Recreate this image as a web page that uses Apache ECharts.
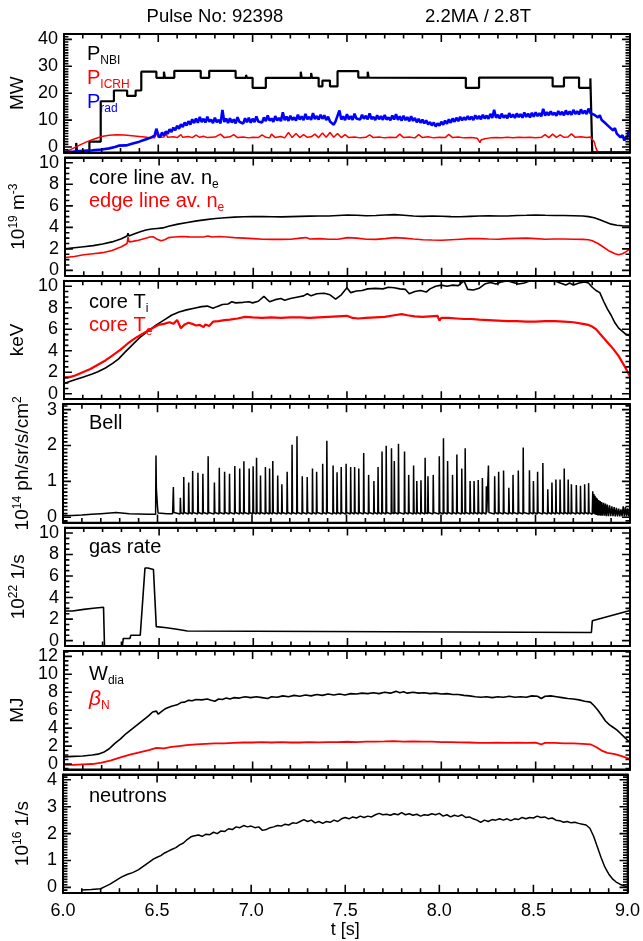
<!DOCTYPE html>
<html><head><meta charset="utf-8">
<script src="https://cdn.jsdelivr.net/npm/echarts@6/dist/echarts.min.js"></script>
<style>html,body{margin:0;padding:0;background:#fff}#c{width:643px;height:941px}</style>
</head><body><div id="c"></div>
<script>
// ---------------- DATA (t [s], value) ----------------
const pNBI = [[6.00,-2],[6.065,-2],[6.065,1.5],[6.07,1.5],[6.07,-2],[6.135,-2],[6.135,2.0],[6.195,2.0],[6.195,17],[6.265,17],[6.265,21],[6.335,21],[6.335,19],[6.38,19],[6.38,21],[6.41,21],[6.41,28],[6.49,28],[6.49,25.7],[6.53,25.7],[6.53,28],[6.535,28],[6.535,25.7],[6.585,25.7],[6.585,28.3],[6.725,28.3],[6.725,25.7],[6.77,25.7],[6.77,28.3],[6.91,28.3],[6.91,25.7],[6.965,25.7],[6.965,26.8],[6.97,25.7],[7.0,25.7],[7.0,22],[7.07,22],[7.07,25.7],[7.255,25.7],[7.255,28],[7.26,25.7],[7.31,25.7],[7.31,27.5],[7.315,25.7],[7.35,25.7],[7.35,22.5],[7.37,22.5],[7.37,24.7],[7.41,24.7],[7.41,22.5],[7.45,22.5],[7.45,28.2],[7.56,28.2],[7.56,25.8],[7.61,25.8],[7.61,28],[7.615,25.8],[8.13,25.7],[8.13,22],[8.20,22],[8.20,25.8],[8.59,25.8],[8.59,22.5],[8.65,22.5],[8.65,25.8],[8.73,25.8],[8.73,22],[8.79,22],[8.79,25.5],[8.795,25.5],[8.80,-2],[9.0,-2]];
const pICRH = [[6.00,-2],[6.04,-0.8],[6.08,0.6],[6.12,1.9],[6.16,3.0],[6.20,3.9],[6.24,4.4],[6.28,4.6],[6.32,4.5],[6.36,4.2],[6.40,3.9],[6.44,3.6],[6.48,3.4],[6.49,5.2],[6.50,3.6],[6.53,3.7],[6.54,5.0],[6.55,3.6],[6.58,3.8],[6.60,3.5],[6.62,4.6],[6.63,3.6],[6.66,3.9],[6.68,3.5],[6.70,4.4],[6.72,3.6],[6.74,4.0],[6.76,3.5],[6.80,3.7],[6.83,4.8],[6.85,3.5],[6.88,3.8],[6.90,4.6],[6.92,3.5],[6.95,3.7],[6.98,3.4],[7.00,3.6],[7.03,3.5],[7.05,4.5],[7.07,3.6],[7.09,3.4],[7.10,4.8],[7.12,3.5],[7.15,3.9],[7.17,3.4],[7.19,5.4],[7.21,3.5],[7.23,5.0],[7.25,3.5],[7.27,4.6],[7.29,3.6],[7.31,3.8],[7.33,4.8],[7.35,3.5],[7.37,5.2],[7.39,3.6],[7.41,5.4],[7.43,3.6],[7.45,5.0],[7.47,3.5],[7.49,4.6],[7.51,3.5],[7.54,3.7],[7.57,3.4],[7.60,3.6],[7.62,4.5],[7.64,3.5],[7.67,3.7],[7.70,3.4],[7.73,3.6],[7.76,3.5],[7.78,4.8],[7.80,3.5],[7.83,3.7],[7.86,3.4],[7.88,4.6],[7.90,3.5],[7.93,3.8],[7.96,3.4],[7.99,3.6],[8.02,3.5],[8.04,4.7],[8.06,3.5],[8.09,3.7],[8.12,3.4],[8.16,3.5],[8.19,3.3],[8.205,1.6],[8.21,2.6],[8.23,3.1],[8.26,3.4],[8.29,3.5],[8.32,3.4],[8.35,3.6],[8.38,3.4],[8.41,3.6],[8.44,3.5],[8.47,3.6],[8.50,3.4],[8.53,3.6],[8.55,4.6],[8.57,3.5],[8.59,4.8],[8.61,3.6],[8.63,4.5],[8.65,3.6],[8.67,3.7],[8.69,4.9],[8.71,3.6],[8.74,3.8],[8.77,3.5],[8.79,3.7],[8.80,4.2],[8.81,2.0],[8.82,-0.5],[8.83,-2],[9.00,-2]];
const pRad = [[6.00,-1.9],[6.05,-1.7],[6.10,-1.4],[6.15,-1.2],[6.20,-0.9],[6.24,-0.5],[6.27,0.0],[6.29,0.5],[6.30,-0.2],[6.33,0.6],[6.36,1.2],[6.38,1.6],[6.40,2.0],[6.42,2.5],[6.44,3.0],[6.46,3.5],[6.47,3.0],[6.48,4.2],[6.49,6.8],[6.50,4.5],[6.51,3.6],[6.52,5.4],[6.53,4.2],[6.54,5.8],[6.55,4.9],[6.56,6.6],[6.57,5.6],[6.58,7.2],[6.59,6.2],[6.60,7.9],[6.61,6.8],[6.62,8.5],[6.63,7.4],[6.64,9.1],[6.65,8.0],[6.66,9.6],[6.67,8.3],[6.68,10.3],[6.69,8.9],[6.70,10.6],[6.71,9.0],[6.72,11.2],[6.73,9.3],[6.74,10.5],[6.75,9.1],[6.76,11.3],[6.77,9.4],[6.78,10.2],[6.79,8.9],[6.80,10.9],[6.81,9.2],[6.82,10.1],[6.83,8.8],[6.84,13.8],[6.85,9.3],[6.86,10.6],[6.87,8.9],[6.88,10.7],[6.89,9.1],[6.90,10.3],[6.91,8.8],[6.92,11.1],[6.93,9.4],[6.94,10.0],[6.95,8.7],[6.96,10.7],[6.97,9.2],[6.98,10.9],[6.99,9.0],[7.00,10.5],[7.01,9.3],[7.02,11.4],[7.03,9.5],[7.04,10.2],[7.05,9.1],[7.06,11.0],[7.07,9.6],[7.08,11.7],[7.09,9.8],[7.10,10.6],[7.11,9.4],[7.12,11.5],[7.13,9.9],[7.14,10.8],[7.15,9.6],[7.16,12.9],[7.17,10.0],[7.18,11.3],[7.19,9.7],[7.20,11.6],[7.21,10.1],[7.22,11.0],[7.23,9.8],[7.24,12.0],[7.25,10.2],[7.26,11.4],[7.27,10.0],[7.28,12.3],[7.29,10.3],[7.30,11.2],[7.31,10.1],[7.32,12.6],[7.33,10.4],[7.34,11.5],[7.35,10.2],[7.36,12.0],[7.37,10.5],[7.38,11.8],[7.39,10.0],[7.40,11.3],[7.41,9.5],[7.42,10.2],[7.43,8.3],[7.44,9.6],[7.45,9.0],[7.46,13.6],[7.47,10.2],[7.48,11.4],[7.49,10.0],[7.50,12.2],[7.51,10.3],[7.52,11.5],[7.53,10.1],[7.54,12.4],[7.55,10.6],[7.56,11.3],[7.57,10.2],[7.58,12.0],[7.59,10.5],[7.60,11.6],[7.61,10.3],[7.62,12.5],[7.63,10.4],[7.64,11.2],[7.65,10.0],[7.66,11.8],[7.67,10.3],[7.68,11.5],[7.69,10.1],[7.70,11.9],[7.71,10.2],[7.72,11.0],[7.73,9.9],[7.74,11.7],[7.75,10.2],[7.76,12.2],[7.77,10.1],[7.78,11.4],[7.79,9.8],[7.80,11.6],[7.81,10.0],[7.82,11.1],[7.83,9.6],[7.84,11.4],[7.85,9.7],[7.86,10.8],[7.87,9.2],[7.88,10.5],[7.89,9.0],[7.90,10.2],[7.91,8.8],[7.92,9.9],[7.93,8.4],[7.94,9.3],[7.95,8.0],[7.96,9.1],[7.97,7.6],[7.98,8.8],[7.99,7.9],[8.00,9.4],[8.01,8.3],[8.02,9.8],[8.03,8.6],[8.04,10.3],[8.05,9.0],[8.06,10.6],[8.07,9.4],[8.08,10.9],[8.09,9.6],[8.10,11.2],[8.11,9.9],[8.12,11.0],[8.13,10.1],[8.14,11.5],[8.15,10.2],[8.16,11.3],[8.17,10.0],[8.18,11.8],[8.19,10.4],[8.20,11.6],[8.21,10.3],[8.22,12.0],[8.23,10.6],[8.24,11.7],[8.25,10.5],[8.26,12.3],[8.27,10.8],[8.28,13.8],[8.29,10.9],[8.30,12.0],[8.31,10.6],[8.32,12.4],[8.33,10.9],[8.34,11.8],[8.35,10.7],[8.36,12.6],[8.37,11.0],[8.38,12.1],[8.39,10.8],[8.40,12.5],[8.41,11.1],[8.42,12.2],[8.43,10.9],[8.44,12.8],[8.45,11.2],[8.46,12.4],[8.47,11.0],[8.48,12.7],[8.49,11.3],[8.50,12.9],[8.51,11.5],[8.52,12.6],[8.53,11.4],[8.54,14.2],[8.55,11.7],[8.56,13.0],[8.57,11.8],[8.58,13.3],[8.59,11.9],[8.60,12.8],[8.61,11.6],[8.62,13.4],[8.63,12.0],[8.64,13.1],[8.65,11.8],[8.66,13.6],[8.67,12.1],[8.68,13.2],[8.69,12.0],[8.70,13.8],[8.71,12.3],[8.72,13.3],[8.73,12.1],[8.74,14.0],[8.75,12.4],[8.76,13.5],[8.77,12.2],[8.78,14.3],[8.79,12.6],[8.80,13.2],[8.81,12.0],[8.82,12.4],[8.83,11.0],[8.84,11.8],[8.85,10.0],[8.86,10.6],[8.87,8.8],[8.88,9.4],[8.89,7.5],[8.90,8.2],[8.91,6.2],[8.92,7.0],[8.93,5.0],[8.94,5.6],[8.95,3.6],[8.96,4.4],[8.97,2.4],[8.98,4.0],[8.985,3.0],[8.99,5.2],[9.00,6.6]];

const neCore = [[6.00,2.0],[6.05,2.1],[6.10,2.2],[6.15,2.3],[6.20,2.45],[6.25,2.65],[6.30,2.95],[6.33,3.2],[6.335,3.45],[6.34,3.2],[6.37,3.4],[6.40,3.6],[6.43,3.75],[6.46,3.85],[6.49,3.9],[6.52,3.95],[6.55,4.1],[6.60,4.3],[6.65,4.45],[6.70,4.6],[6.75,4.72],[6.80,4.82],[6.85,4.9],[6.90,4.95],[6.95,4.98],[7.00,5.0],[7.05,5.0],[7.10,4.98],[7.15,4.97],[7.20,5.0],[7.25,5.02],[7.30,5.04],[7.35,5.05],[7.40,5.05],[7.45,5.1],[7.50,5.15],[7.55,5.12],[7.60,5.08],[7.65,5.1],[7.70,5.15],[7.75,5.18],[7.80,5.12],[7.85,5.05],[7.90,5.02],[7.95,5.05],[8.00,5.03],[8.05,5.0],[8.10,4.98],[8.15,5.02],[8.20,5.05],[8.25,5.07],[8.30,5.05],[8.35,5.06],[8.40,5.1],[8.45,5.12],[8.50,5.15],[8.55,5.12],[8.60,5.1],[8.65,5.1],[8.70,5.08],[8.75,5.05],[8.78,5.0],[8.81,4.9],[8.84,4.7],[8.87,4.5],[8.90,4.3],[8.93,4.2],[8.96,4.15],[9.00,4.12]];
const neEdge = [[6.00,1.2],[6.05,1.3],[6.10,1.45],[6.15,1.55],[6.20,1.65],[6.25,1.85],[6.30,2.2],[6.33,2.5],[6.335,3.1],[6.34,2.65],[6.36,2.7],[6.39,2.8],[6.42,2.95],[6.45,3.1],[6.47,3.12],[6.49,2.9],[6.51,2.75],[6.53,2.85],[6.55,3.05],[6.58,3.1],[6.62,3.15],[6.66,3.12],[6.70,3.1],[6.74,3.12],[6.76,3.2],[6.78,3.1],[6.82,3.15],[6.86,3.1],[6.90,3.05],[6.95,3.0],[7.00,2.95],[7.05,2.9],[7.10,2.88],[7.15,2.88],[7.20,2.9],[7.25,3.0],[7.28,3.05],[7.30,2.92],[7.35,2.95],[7.40,2.9],[7.45,2.9],[7.50,3.05],[7.55,3.0],[7.60,2.9],[7.65,2.88],[7.70,2.95],[7.75,3.05],[7.80,3.0],[7.85,2.92],[7.90,2.85],[7.95,2.82],[8.00,2.8],[8.05,2.85],[8.10,2.9],[8.15,2.95],[8.20,2.95],[8.25,2.92],[8.30,2.9],[8.35,2.95],[8.40,2.98],[8.45,3.0],[8.50,2.95],[8.55,2.9],[8.60,2.92],[8.65,2.92],[8.70,2.9],[8.75,2.88],[8.78,2.85],[8.80,2.75],[8.83,2.5],[8.86,2.15],[8.89,1.8],[8.92,1.55],[8.94,1.45],[8.96,1.55],[8.98,1.75],[9.00,2.0]];

const tiCore = [[6.00,0.95],[6.05,1.25],[6.10,1.55],[6.15,1.85],[6.18,2.05],[6.22,2.4],[6.26,2.85],[6.29,3.25],[6.32,3.8],[6.36,4.5],[6.40,5.2],[6.45,5.9],[6.49,6.4],[6.53,6.85],[6.57,7.3],[6.61,7.6],[6.65,7.8],[6.69,7.95],[6.73,8.1],[6.76,8.15],[6.79,7.95],[6.81,8.1],[6.84,8.3],[6.87,8.35],[6.89,8.55],[6.91,8.45],[6.95,8.5],[6.98,8.55],[7.00,8.45],[7.03,8.6],[7.06,9.05],[7.09,8.55],[7.12,8.75],[7.15,8.85],[7.17,8.7],[7.20,8.85],[7.24,9.0],[7.27,9.1],[7.29,9.3],[7.31,9.1],[7.34,9.3],[7.38,9.35],[7.41,9.2],[7.44,8.8],[7.47,9.2],[7.50,9.85],[7.52,9.4],[7.55,9.55],[7.58,9.6],[7.61,9.75],[7.65,9.8],[7.69,9.75],[7.72,9.9],[7.75,9.85],[7.78,9.75],[7.81,9.7],[7.83,9.3],[7.86,9.5],[7.89,9.6],[7.92,9.45],[7.94,9.75],[7.97,10.0],[8.00,10.1],[8.03,10.0],[8.06,10.1],[8.09,10.05],[8.12,10.5],[8.14,9.7],[8.17,9.65],[8.20,9.8],[8.23,10.2],[8.26,10.35],[8.29,10.2],[8.32,10.4],[8.35,10.5],[8.38,10.35],[8.41,10.2],[8.44,10.3],[8.47,10.5],[8.50,10.6],[8.55,10.6],[8.60,10.5],[8.63,10.3],[8.66,10.1],[8.68,10.3],[8.70,10.1],[8.73,10.3],[8.76,10.4],[8.78,10.3],[8.80,9.9],[8.82,9.6],[8.84,9.4],[8.86,8.6],[8.88,7.9],[8.90,7.3],[8.92,6.6],[8.94,6.1],[8.96,5.8],[8.98,5.5],[9.00,5.4]];
const teCore = [[6.00,1.5],[6.03,1.55],[6.06,1.7],[6.10,2.0],[6.14,2.3],[6.18,2.7],[6.22,3.1],[6.26,3.6],[6.30,4.1],[6.34,4.7],[6.38,5.2],[6.42,5.6],[6.45,5.9],[6.48,6.2],[6.50,6.4],[6.53,6.5],[6.56,6.65],[6.58,6.5],[6.60,6.85],[6.61,6.9],[6.62,6.1],[6.64,6.45],[6.66,6.6],[6.68,6.5],[6.70,6.35],[6.72,6.4],[6.74,6.2],[6.75,6.45],[6.77,6.3],[6.79,6.7],[6.82,6.75],[6.85,6.85],[6.88,6.9],[6.92,7.0],[6.96,7.15],[7.00,7.1],[7.05,7.05],[7.10,7.1],[7.15,7.05],[7.20,7.1],[7.25,7.1],[7.30,7.05],[7.35,7.1],[7.40,7.15],[7.45,7.2],[7.50,7.25],[7.53,7.05],[7.56,7.0],[7.60,7.05],[7.65,7.1],[7.70,7.15],[7.75,7.3],[7.79,7.4],[7.82,7.3],[7.86,7.2],[7.90,7.15],[7.94,7.2],[7.98,7.25],[7.99,6.8],[8.00,7.05],[8.04,7.05],[8.08,7.0],[8.12,6.95],[8.16,6.95],[8.20,6.9],[8.25,6.85],[8.30,6.8],[8.35,6.75],[8.40,6.75],[8.45,6.7],[8.50,6.7],[8.55,6.75],[8.60,6.75],[8.65,6.7],[8.70,6.65],[8.75,6.5],[8.78,6.4],[8.80,6.25],[8.82,6.0],[8.85,5.4],[8.88,4.8],[8.91,4.2],[8.94,3.5],[8.97,2.6],[9.00,1.6]];

const bellPre = [[6.00,0.04],[6.05,0.05],[6.10,0.06],[6.15,0.08],[6.20,0.1],[6.25,0.12],[6.28,0.13],[6.31,0.12],[6.35,0.1],[6.40,0.09],[6.45,0.08],[6.49,0.08],[6.492,1.72],[6.494,0.8],[6.497,0.75],[6.50,0.3],[6.503,0.12],[6.55,0.1],[6.58,0.1]];
const elmT = [6.584,6.621,6.639,6.665,6.686,6.714,6.740,6.768,6.801,6.827,6.855,6.881,6.909,6.935,6.957,6.985,7.006,7.024,7.045,7.071,7.093,7.110,7.136,7.158,7.186,7.212,7.238,7.266,7.292,7.320,7.342,7.374,7.396,7.429,7.450,7.472,7.498,7.522,7.543,7.565,7.591,7.617,7.645,7.667,7.688,7.710,7.738,7.753,7.775,7.807,7.829,7.855,7.872,7.894,7.916,7.931,7.959,7.991,8.013,8.035,8.061,8.084,8.110,8.128,8.154,8.175,8.197,8.219,8.240,8.251,8.284,8.305,8.331,8.359,8.381,8.409,8.435,8.468,8.489,8.511,8.539,8.565,8.587,8.608,8.630,8.652,8.673,8.690,8.716,8.738,8.760,8.781];
const elmPeak = [0.84,0.54,1.12,0.97,1.29,1.24,1.21,1.70,0.97,1.38,1.27,1.21,1.43,1.36,1.56,1.36,1.42,1.66,1.16,1.40,1.36,1.57,1.16,0.92,1.27,2.02,2.26,1.14,1.12,1.36,1.27,1.49,2.13,1.44,1.25,1.40,1.49,1.40,1.40,1.36,1.79,1.18,1.01,1.40,1.83,1.99,1.92,1.57,2.05,1.83,1.18,1.44,1.01,1.03,1.66,1.14,1.18,1.70,2.20,1.57,1.18,1.75,1.36,1.92,1.01,1.01,1.04,1.09,0.86,1.44,1.14,1.27,1.30,0.82,1.18,1.30,1.94,1.31,1.01,1.27,1.51,0.78,0.97,1.05,1.05,1.36,1.05,0.92,0.90,0.88,0.92,0.95];
const elmFloor = 0.09;
const bellTail = [[8.800,0.08],[8.803,0.72],[8.806,0.1],[8.809,0.65],[8.812,0.08],[8.815,0.6],[8.818,0.07],[8.821,0.55],[8.824,0.06],[8.827,0.52],[8.830,0.05],[8.834,0.48],[8.838,0.05],[8.842,0.45],[8.846,0.04],[8.850,0.42],[8.855,0.04],[8.860,0.40],[8.865,0.04],[8.870,0.38],[8.875,0.03],[8.880,0.35],[8.886,0.03],[8.892,0.33],[8.898,0.03],[8.904,0.30],[8.910,0.03],[8.916,0.28],[8.922,0.02],[8.928,0.26],[8.934,0.02],[8.940,0.24],[8.946,0.02],[8.952,0.22],[8.958,0.02],[8.964,0.3],[8.970,0.02],[8.976,0.28],[8.982,0.02],[8.988,0.25],[8.994,0.02],[9.000,0.2]];

const gasRate = [[6.00,2.75],[6.04,2.75],[6.04,2.9],[6.10,2.9],[6.10,3.0],[6.15,3.0],[6.15,3.1],[6.205,3.1],[6.21,-0.5],[6.305,-0.5],[6.31,0.2],[6.345,0.2],[6.35,0.5],[6.40,0.5],[6.40,0.4],[6.405,0.4],[6.425,6.75],[6.44,6.75],[6.44,6.6],[6.47,6.6],[6.485,1.3],[6.49,1.2],[6.54,1.2],[6.54,1.05],[6.595,1.05],[6.595,0.9],[6.65,0.9],[6.65,0.75],[8.795,0.75],[8.80,1.85],[9.00,2.8]];

const wDia = [[6.00,0.8],[6.05,0.85],[6.10,0.9],[6.15,1.0],[6.18,1.1],[6.21,1.3],[6.24,1.7],[6.27,2.3],[6.30,2.8],[6.33,3.4],[6.36,3.9],[6.39,4.4],[6.42,4.9],[6.45,5.4],[6.47,5.8],[6.49,5.9],[6.50,5.55],[6.52,5.9],[6.54,6.2],[6.57,6.45],[6.60,6.6],[6.62,6.85],[6.64,6.9],[6.66,7.1],[6.68,7.05],[6.70,7.2],[6.73,7.15],[6.76,7.25],[6.78,7.1],[6.80,7.0],[6.82,7.25],[6.84,7.2],[6.86,7.35],[6.88,7.25],[6.90,7.4],[6.93,7.35],[6.96,7.5],[6.99,7.4],[7.02,7.5],[7.05,7.4],[7.08,7.3],[7.10,7.5],[7.13,7.45],[7.16,7.6],[7.19,7.5],[7.22,7.65],[7.25,7.55],[7.28,7.7],[7.31,7.6],[7.34,7.75],[7.37,7.65],[7.40,7.8],[7.43,7.7],[7.46,7.8],[7.49,7.7],[7.52,7.85],[7.55,7.8],[7.58,7.9],[7.61,7.85],[7.64,7.95],[7.67,7.85],[7.70,8.0],[7.73,7.9],[7.76,8.1],[7.78,7.95],[7.80,8.05],[7.82,7.9],[7.85,8.0],[7.88,7.9],[7.91,7.95],[7.94,7.85],[7.97,7.9],[8.00,7.8],[8.03,7.85],[8.06,7.75],[8.09,7.75],[8.12,7.65],[8.15,7.6],[8.18,7.5],[8.21,7.45],[8.24,7.5],[8.27,7.4],[8.30,7.5],[8.33,7.45],[8.36,7.55],[8.39,7.45],[8.42,7.5],[8.45,7.45],[8.48,7.6],[8.51,7.55],[8.53,7.3],[8.55,7.55],[8.58,7.6],[8.61,7.5],[8.64,7.4],[8.67,7.3],[8.70,7.25],[8.73,7.15],[8.76,7.0],[8.79,6.9],[8.81,6.5],[8.83,6.0],[8.85,5.4],[8.87,4.8],[8.89,4.4],[8.91,4.1],[8.93,3.8],[8.95,3.4],[8.97,3.0],[9.00,2.4]];
const betaN = [[6.00,-0.1],[6.05,-0.1],[6.10,-0.05],[6.15,0.0],[6.20,0.15],[6.25,0.4],[6.30,0.75],[6.35,1.05],[6.40,1.3],[6.45,1.55],[6.49,1.8],[6.50,1.6],[6.53,1.75],[6.57,1.9],[6.61,2.0],[6.65,2.1],[6.70,2.2],[6.75,2.25],[6.80,2.3],[6.85,2.3],[6.90,2.35],[6.95,2.4],[7.00,2.4],[7.05,2.45],[7.10,2.4],[7.15,2.45],[7.20,2.4],[7.25,2.4],[7.30,2.45],[7.35,2.42],[7.40,2.45],[7.45,2.45],[7.50,2.48],[7.55,2.45],[7.60,2.5],[7.65,2.5],[7.70,2.52],[7.75,2.55],[7.80,2.5],[7.85,2.52],[7.90,2.5],[7.95,2.5],[8.00,2.45],[8.05,2.45],[8.10,2.42],[8.15,2.4],[8.20,2.35],[8.25,2.35],[8.30,2.38],[8.35,2.35],[8.40,2.38],[8.45,2.35],[8.50,2.38],[8.53,2.2],[8.55,2.35],[8.60,2.35],[8.65,2.3],[8.70,2.3],[8.75,2.25],[8.79,2.2],[8.82,1.9],[8.85,1.5],[8.88,1.25],[8.92,1.1],[8.96,0.85],[9.00,0.55]];

const neutrons = [[6.10,-0.1],[6.15,-0.08],[6.20,-0.05],[6.22,0.02],[6.25,0.12],[6.28,0.25],[6.31,0.38],[6.34,0.48],[6.37,0.55],[6.40,0.65],[6.43,0.8],[6.46,0.95],[6.48,1.05],[6.50,1.12],[6.52,1.18],[6.54,1.28],[6.56,1.35],[6.58,1.42],[6.60,1.48],[6.62,1.58],[6.64,1.65],[6.66,1.78],[6.68,1.88],[6.70,1.92],[6.72,1.95],[6.74,1.9],[6.76,1.98],[6.78,1.96],[6.80,2.05],[6.82,2.0],[6.84,2.1],[6.86,2.08],[6.88,2.18],[6.90,2.15],[6.92,2.25],[6.94,2.22],[6.96,2.3],[6.98,2.25],[7.00,2.28],[7.02,2.22],[7.04,2.25],[7.06,2.12],[7.08,2.15],[7.10,2.22],[7.12,2.25],[7.14,2.3],[7.16,2.28],[7.18,2.35],[7.20,2.32],[7.22,2.4],[7.24,2.38],[7.26,2.45],[7.28,2.52],[7.30,2.45],[7.32,2.5],[7.34,2.4],[7.36,2.45],[7.38,2.38],[7.40,2.45],[7.42,2.42],[7.44,2.5],[7.46,2.45],[7.48,2.55],[7.50,2.6],[7.52,2.55],[7.54,2.62],[7.56,2.58],[7.58,2.65],[7.60,2.6],[7.62,2.65],[7.64,2.62],[7.66,2.7],[7.68,2.75],[7.70,2.7],[7.72,2.72],[7.74,2.68],[7.76,2.74],[7.78,2.7],[7.80,2.78],[7.82,2.7],[7.84,2.74],[7.86,2.68],[7.88,2.72],[7.90,2.65],[7.92,2.7],[7.94,2.68],[7.96,2.74],[7.98,2.7],[8.00,2.75],[8.02,2.65],[8.04,2.7],[8.06,2.62],[8.08,2.68],[8.10,2.64],[8.12,2.7],[8.14,2.6],[8.16,2.62],[8.18,2.55],[8.20,2.5],[8.22,2.42],[8.24,2.5],[8.26,2.45],[8.28,2.52],[8.30,2.5],[8.32,2.55],[8.34,2.5],[8.36,2.55],[8.38,2.48],[8.40,2.55],[8.42,2.52],[8.44,2.6],[8.46,2.55],[8.48,2.6],[8.50,2.58],[8.52,2.65],[8.54,2.6],[8.56,2.62],[8.58,2.55],[8.60,2.58],[8.62,2.5],[8.64,2.48],[8.66,2.42],[8.68,2.45],[8.70,2.4],[8.72,2.42],[8.74,2.38],[8.76,2.35],[8.78,2.32],[8.80,2.2],[8.82,1.9],[8.84,1.5],[8.86,1.1],[8.88,0.75],[8.90,0.5],[8.92,0.32],[8.94,0.2],[8.96,0.12],[8.98,0.06],[9.00,0.02]];

// axis ranges, tick steps and labels per panel
const yMin = [-2, -0.5, -0.5, -0.15, -0.5, -0.6, -0.2];
const yMax = [42, 10.5, 10.5, 3.15, 10.5, 12.6, 4.2];
const ySplit = [4, 5, 5, 3, 5, 6, 4];
const yStep = [10, 2, 2, 1, 2, 2, 1];
const yMinor = [10, 4, 4, 10, 4, 4, 10];
const yNames = ['{a|MW}', '{a|10}{s|19}{a| m}{s|-3}', '{a|keV}', '{a|10}{s|14}{a| ph/sr/s/cm}{s|2}', '{a|10}{s|22}{a| 1/s}', '{a|MJ}', '{a|10}{s|16}{a| 1/s}'];
const xMin = 6.0, xMax = 9.0, xStep = 0.5, xMinor = 5;
const titleLeft = 'Pulse No: 92398', titleRight = '2.2MA / 2.8T', xName = 't [s]';

// ---------------- CHART ----------------
const FONT = 'Liberation Sans';
const BLACK = '#000', RED = '#ff0000', BLUE = '#0000ff';
const W = 643, TOP0 = 34, H = 118.4, GAP = 5, LEFT = 63, RIGHT = 13;
const MAJ = 8, MIN = 4.5;   // tick lengths in px

function bellData() {
  const d = bellPre.slice();
  elmT.forEach((t, i) => { d.push([t - 0.0015, elmFloor], [t, elmPeak[i]], [t + 0.0025, elmFloor + 0.04]); });
  return d.concat(bellTail);
}
function tickValues(lo, hi, step, minorSplit) {
  const out = [];
  const ms = step / minorSplit;
  const k0 = Math.ceil((lo - 1e-9) / ms), k1 = Math.floor((hi + 1e-9) / ms);
  for (let k = k0; k <= k1; k++) out.push({v: +(k * ms).toFixed(6), major: k % minorSplit === 0});
  return out;
}
// Tick marks: one continuous path per panel running along the box edges,
// going in-and-back at every tick value (drawn through the panel's own axes).
function tickPath(i) {
  const xPerPx = (xMax - xMin) / (W - LEFT - RIGHT);
  const yPerPx = (yMax[i] - yMin[i]) / H;
  const yt = tickValues(yMin[i], yMax[i], yStep[i], yMinor[i]);
  const xt = tickValues(xMin, xMax, xStep, xMinor);
  const d = [];
  d.push([xMin, yMin[i]]);
  yt.forEach(t => { const l = (t.major ? MAJ : MIN) * xPerPx; d.push([xMin, t.v], [xMin + l, t.v], [xMin, t.v]); });
  d.push([xMin, yMax[i]]);
  xt.forEach(t => { const l = (t.major ? MAJ : MIN) * yPerPx; d.push([t.v, yMax[i]], [t.v, yMax[i] - l], [t.v, yMax[i]]); });
  d.push([xMax, yMax[i]]);
  yt.slice().reverse().forEach(t => { const l = (t.major ? MAJ : MIN) * xPerPx; d.push([xMax, t.v], [xMax - l, t.v], [xMax, t.v]); });
  d.push([xMax, yMin[i]]);
  xt.slice().reverse().forEach(t => { const l = (t.major ? MAJ : MIN) * yPerPx; d.push([t.v, yMin[i]], [t.v, yMin[i] + l], [t.v, yMin[i]]); });
  d.push([xMin, yMin[i]]);
  return d;
}

const grids = [], xAxes = [], yAxes = [], series = [];
const axisCommon = () => ({
  axisLine: {show: true, onZero: false, lineStyle: {color: BLACK, width: 2}},
  splitLine: {show: false}, axisTick: {show: false}, minorTick: {show: false}
});
for (let i = 0; i < 7; i++) {
  grids.push({left: LEFT, right: RIGHT, top: TOP0 + i * (H + GAP), height: H, containLabel: false});
  ['bottom', 'top'].forEach(pos => {
    xAxes.push(Object.assign(axisCommon(), {
      type: 'value', gridIndex: i, position: pos, min: xMin, max: xMax, interval: xStep,
      axisLabel: {show: pos === 'bottom' && i === 6, margin: 9, fontSize: 18, fontFamily: FONT, color: BLACK,
        formatter: v => v.toFixed(1), showMinLabel: true, showMaxLabel: true},
      name: (pos === 'bottom' && i === 6) ? xName : '', nameLocation: 'middle', nameGap: 27,
      nameTextStyle: {fontSize: 18, fontFamily: FONT, color: BLACK}
    }));
  });
  ['left', 'right'].forEach(pos => {
    yAxes.push(Object.assign(axisCommon(), {
      type: 'value', gridIndex: i, position: pos, min: yMin[i], max: yMax[i], splitNumber: ySplit[i],
      axisLabel: {show: pos === 'left', margin: 6, fontSize: 18, fontFamily: FONT, color: BLACK,
        showMinLabel: false, showMaxLabel: false},
      name: pos === 'left' ? yNames[i] : '', nameLocation: 'middle', nameRotate: 90, nameGap: 30,
      nameTextStyle: {fontFamily: FONT, color: BLACK, rich: {
        a: {fontSize: 19, fontFamily: FONT, color: BLACK},
        s: {fontSize: 12, fontFamily: FONT, color: BLACK, padding: [0, 0, 9, 0]}
      }}
    }));
  });
  series.push({type: 'line', xAxisIndex: 2 * i, yAxisIndex: 2 * i, data: tickPath(i), showSymbol: false, symbol: 'none',
    silent: true, smooth: false, clip: false, animation: false, z: 4,
    lineStyle: {color: BLACK, width: 1.6}});
}
function addLine(i, data, color, width) {
  series.push({type: 'line', xAxisIndex: 2 * i, yAxisIndex: 2 * i, data: data, showSymbol: false, symbol: 'none',
    lineStyle: {color: color, width: width}, itemStyle: {color: color}, animation: false, clip: true, z: 3});
}
addLine(0, pNBI, BLACK, 2.2);
addLine(0, pICRH, RED, 1.5);
addLine(0, pRad, BLUE, 2.6);
addLine(1, neCore, BLACK, 1.6);
addLine(1, neEdge, RED, 1.6);
addLine(2, tiCore, BLACK, 1.6);
addLine(2, teCore, RED, 2.2);
addLine(3, bellData(), BLACK, 1.5);
addLine(4, gasRate, BLACK, 1.6);
addLine(5, wDia, BLACK, 1.6);
addLine(5, betaN, RED, 1.8);
addLine(6, neutrons, BLACK, 1.5);

const richT = (c) => ({
  a: {fontSize: 20, fontFamily: FONT, fill: c, color: c},
  b: {fontSize: 12, fontFamily: FONT, fill: c, color: c, padding: [13, 0, 0, 0]},
  g: {fontSize: 21, fontFamily: FONT, fontStyle: 'italic', fill: c, color: c}
});
function label(x, y, text, c) {
  return {type: 'text', x: x, y: y, z: 10, silent: true,
    style: {text: text, fill: c, align: 'left', verticalAlign: 'middle', textAlign: 'left', textVerticalAlign: 'middle',
      font: '20px "' + FONT + '"', rich: richT(c)}};
}
const titleStyle = (t) => ({text: t, fill: BLACK, font: '18.5px "' + FONT + '"', align: 'center', verticalAlign: 'middle', textAlign: 'center', textVerticalAlign: 'middle'});
const graphics = [
  {type: 'text', x: 215, y: 17, style: titleStyle(titleLeft)},
  {type: 'text', x: 478, y: 17, style: titleStyle(titleRight)},
  label(87, 54, '{a|P}{b|NBI}', BLACK),
  label(87, 78, '{a|P}{b|ICRH}', RED),
  label(87, 102, '{a|P}{b|rad}', BLUE),
  label(89, 178, '{a|core line av. n}{b|e}', BLACK),
  label(89, 201, '{a|edge line av. n}{b|e}', RED),
  label(89, 302, '{a|core T}{b|i}', BLACK),
  label(89, 325, '{a|core T}{b|e}', RED),
  label(89, 423, '{a|Bell}', BLACK),
  label(89, 547, '{a|gas rate}', BLACK),
  label(89, 674, '{a|W}{b|dia}', BLACK),
  label(89, 699, '{g|β}{b|N}', RED),
  label(89, 796, '{a|neutrons}', BLACK)
];

const chart = echarts.init(document.getElementById('c'), null, {renderer: 'canvas'});
chart.setOption({
  animation: false, backgroundColor: '#fff',
  grid: grids, xAxis: xAxes, yAxis: yAxes, series: series, graphic: graphics
});
</script></body></html>
